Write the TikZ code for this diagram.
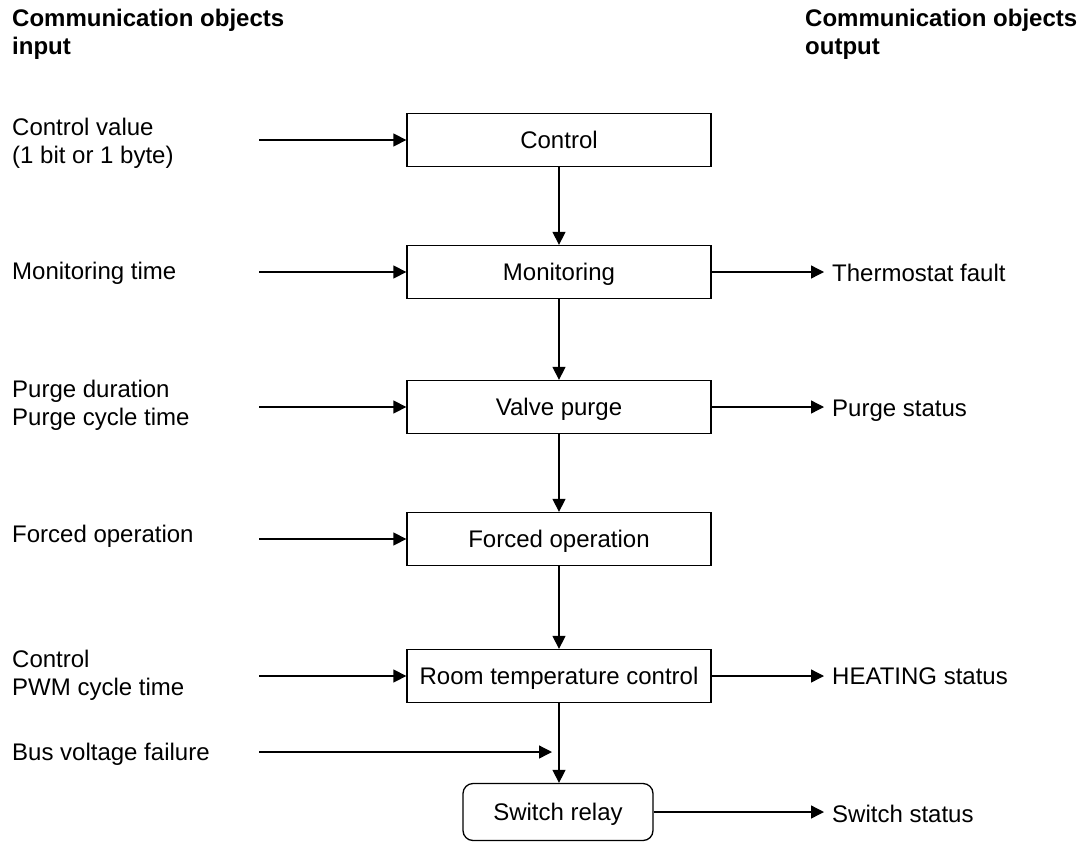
\documentclass[tikz,border=0pt]{standalone}
\usepackage{fontspec}
\setmainfont{Liberation Sans}
\usetikzlibrary{arrows.meta}
\begin{document}
\begin{tikzpicture}[x=1pt,y=-1pt,
  every node/.style={font=\fontsize{24}{28}\selectfont},
  lbl/.style={anchor=base west, inner sep=0pt, align=left},
  head/.style={lbl, font=\fontsize{24}{28}\selectfont\bfseries},
  blk/.style={draw, line width=1.3pt, minimum width=304pt, minimum height=53pt, inner sep=0pt, text height=17pt, text depth=0pt},
  relaybox/.style={blk, minimum width=190pt, minimum height=57pt, rounded corners=10pt},
  arr/.style={line width=1.3pt, -{Triangle[length=13pt,width=13pt]}},
]
\useasboundingbox (0,0) rectangle (1083,843);

% blocks
\node[blk] (ctrl) at (559,140) {Control};
\node[blk] (mon) at (559,272) {Monitoring};
\node[blk] (purge) at (559,407) {Valve purge};
\node[blk] (forced) at (559,539) {Forced operation};
\node[blk] (room) at (559,676) {Room temperature control};
\node[relaybox] (relay) at (558,812) {Switch relay};

% vertical flow
\draw[arr] (ctrl.south) -- (mon.north);
\draw[arr] (mon.south) -- (purge.north);
\draw[arr] (purge.south) -- (forced.north);
\draw[arr] (forced.south) -- (room.north);
\draw[arr] (room.south) -- (room.south |- relay.north);

% inputs
\coordinate (i1) at (259,140);
\coordinate (i2) at (259,272);
\coordinate (i3) at (259,407);
\coordinate (i4) at (259,539);
\coordinate (i5) at (259,676);
\coordinate (i6) at (259,752);
\coordinate (j6) at (552,752);
\draw[arr] (i1) -- (ctrl.west);
\draw[arr] (i2) -- (mon.west);
\draw[arr] (i3) -- (purge.west);
\draw[arr] (i4) -- (forced.west);
\draw[arr] (i5) -- (room.west);
\draw[arr] (i6) -- (j6);

% outputs
\coordinate (o1) at (824,272);
\coordinate (o2) at (824,407);
\coordinate (o3) at (824,676);
\coordinate (o4) at (824,812);
\draw[arr] (mon.east) -- (o1);
\draw[arr] (purge.east) -- (o2);
\draw[arr] (room.east) -- (o3);
\draw[arr] (relay.east) -- (o4);

% headers (base anchor = baseline of last line)
\node[head] (hin) at (12,55) {Communication objects\\input};
\node[head] (hout) at (805,55) {Communication objects\\output};

% input labels
\node[lbl] (l1) at (12,163) {Control value\\(1 bit or 1 byte)};
\node[lbl] (l2) at (12,279) {Monitoring time};
\node[lbl] (l3) at (12,425) {Purge duration\\Purge cycle time};
\node[lbl] (l4) at (12,542) {Forced operation};
\node[lbl] (l5) at (12,695) {Control\\PWM cycle time};
\node[lbl] (l6) at (12,760) {Bus voltage failure};

% output labels
\node[lbl] (r1) at (832,281) {Thermostat fault};
\node[lbl] (r2) at (832,416) {Purge status};
\node[lbl] (r3) at (832,684) {HEATING status};
\node[lbl] (r4) at (832,822) {Switch status};
\end{tikzpicture}
\end{document}
